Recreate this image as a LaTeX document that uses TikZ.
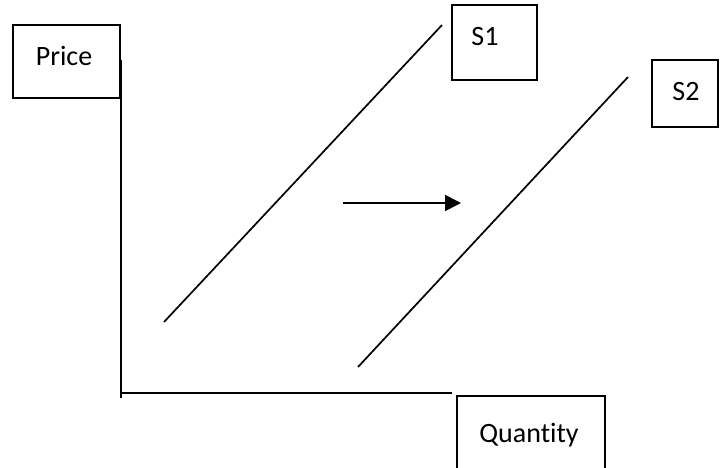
\documentclass[tikz,border=0pt]{standalone}
\usepackage{fontspec}
\setmainfont[Ligatures=NoCommon]{Carlito}
\usetikzlibrary{arrows.meta}
\begin{document}
\begin{tikzpicture}[x=1pt,y=-1pt,
  box/.style={draw,line width=1.6pt,inner sep=0pt,rectangle},
  lbl/.style={inner sep=0pt,anchor=base,font=\fontsize{28}{32}\selectfont},
  ln/.style={line width=1.7pt}]
\useasboundingbox (0,0) rectangle (720,467);
\clip (0,0) rectangle (720,467);
\fill[white] (0,0) rectangle (720,467);
% boxes
\node[box,minimum width=107pt,minimum height=73pt] (pricebox) at (66.5,61.5) {};
\node[lbl] (pricetxt) at (64,65) {Price};
\node[box,minimum width=85pt,minimum height=75pt] (s1box) at (494.5,42.5) {};
\node[lbl] (s1txt) at (485,45) {S1};
\node[box,minimum width=66pt,minimum height=67pt] (s2box) at (685,93.5) {};
\node[lbl] (s2txt) at (686,100) {S2};
\node[box,minimum width=148pt,minimum height=100pt] (qbox) at (531,446) {};
\node[lbl] (qtxt) at (529,442) {Quantity};
% axes
\coordinate (ytop) at (121,60);
\coordinate (origin) at (121,393);
\coordinate (ybot) at (121,398);
\coordinate (xend) at (452,393);
\draw[ln] (ytop) -- (ybot);
\draw[ln] (origin) -- (xend);
% supply curves
\coordinate (s1a) at (164,322);
\coordinate (s1b) at (442,25);
\coordinate (s2a) at (358,367);
\coordinate (s2b) at (628,77);
\draw[ln] (s1a) -- (s1b);
\draw[ln] (s2a) -- (s2b);
% shift arrow
\coordinate (arra) at (343,203);
\coordinate (arrb) at (461,203);
\draw[ln,-{Triangle[length=16pt,width=16pt]}] (arra) -- (arrb);
\end{tikzpicture}
\end{document}
